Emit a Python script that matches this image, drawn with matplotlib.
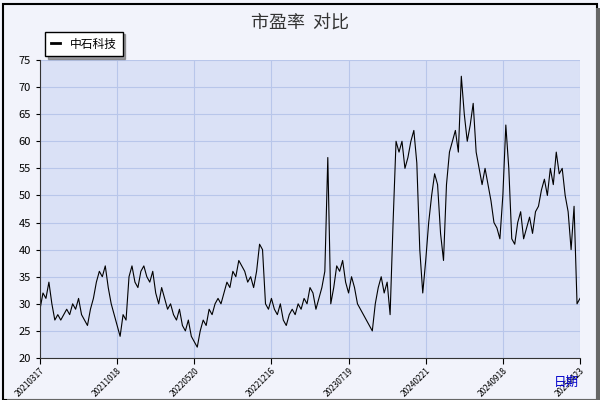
import matplotlib
matplotlib.use("Agg")
import matplotlib.pyplot as plt
import matplotlib.patches as mpatches

plt.rcParams['font.family'] = ['Noto Sans CJK SC', 'DejaVu Sans']

series_name = "中石科技"
pe_values = [
    29,32,31,34,30,27,28,27,28,29,28,30,29,31,28,27,26,29,31,34,36,35,37,33,30,28,
    26,24,28,27,35,37,34,33,36,37,35,34,36,32,30,33,31,29,30,28,27,29,26,25,27,24,
    23,22,25,27,26,29,28,30,31,30,32,34,33,36,35,38,37,36,34,35,33,36,41,40,30,29,
    31,29,28,30,27,26,28,29,28,30,29,31,30,33,32,29,31,33,36,57,30,33,37,36,38,34,
    32,35,33,30,29,28,27,26,25,30,33,35,32,34,28,45,60,58,60,55,57,60,62,56,40,32,
    38,45,50,54,52,43,38,52,58,60,62,58,72,65,60,63,67,58,55,52,55,52,49,45,44,42,
    50,63,55,42,41,45,47,42,44,46,43,47,48,51,53,50,55,52,58,54,55,50,47,40,48,30,31,
]
tick_labels = ["20210317","20211018","20220520","20221216","20230719","20240221","20240918","20250423"]
y_ticks = [20,25,30,35,40,45,50,55,60,65,70,75]

fig = plt.figure(figsize=(6,4), dpi=100, facecolor='#f2f3fb')
fig.patches.append(mpatches.Rectangle((0.005,0.0), 0.99, 0.99, transform=fig.transFigure, fill=False, edgecolor='black', lw=1.5))
fig.patches.append(mpatches.Rectangle((0.012,-0.01), 0.99, 0.012, transform=fig.transFigure, color='#666666', lw=0))
fig.patches.append(mpatches.Rectangle((0.993,-0.01), 0.01, 0.99, transform=fig.transFigure, color='#666666', lw=0))

ax = fig.add_axes([40/600, 1-358/400, 540/600, 298/400])
ax.set_facecolor('#dae1f6')
x = list(range(len(pe_values)))
line, = ax.plot(x, pe_values, color='black', lw=0.8)
step = 26
ax.set_xlim(0, step*(len(tick_labels)-1))
ax.set_ylim(20, 75)
ax.set_yticks(y_ticks)
ax.set_xticks([i*step for i in range(len(tick_labels))])
ax.set_xticklabels(tick_labels, rotation=45, ha='right', rotation_mode='anchor', fontsize=6)
ax.tick_params(axis='y', labelsize=8, length=3)
ax.tick_params(axis='x', length=4, pad=2)
ax.grid(True, color='#b8c6ea', lw=0.8)
for s in ['top','right']:
    ax.spines[s].set_visible(False)
ax.spines['left'].set_color('#333333')
ax.spines['bottom'].set_color('#333333')

fig.text(0.5, 0.965, "市盈率  对比", ha='center', va='top', fontsize=13, color='#333333')
fig.text(0.965, 0.045, "日期", ha='right', va='center', fontsize=9, color='#0000cc')
leg = ax.legend([line], [series_name], loc='upper left', bbox_to_anchor=(-0.002, 1.115), fontsize=8.5,
                frameon=True, fancybox=False, shadow=True, handlelength=0.8, borderpad=0.5)
leg.get_frame().set_edgecolor('black')
leg.get_frame().set_facecolor('white')
for l in leg.get_lines():
    l.set_linewidth(2)
fig.savefig("out.png", dpi=100, facecolor=fig.get_facecolor())
